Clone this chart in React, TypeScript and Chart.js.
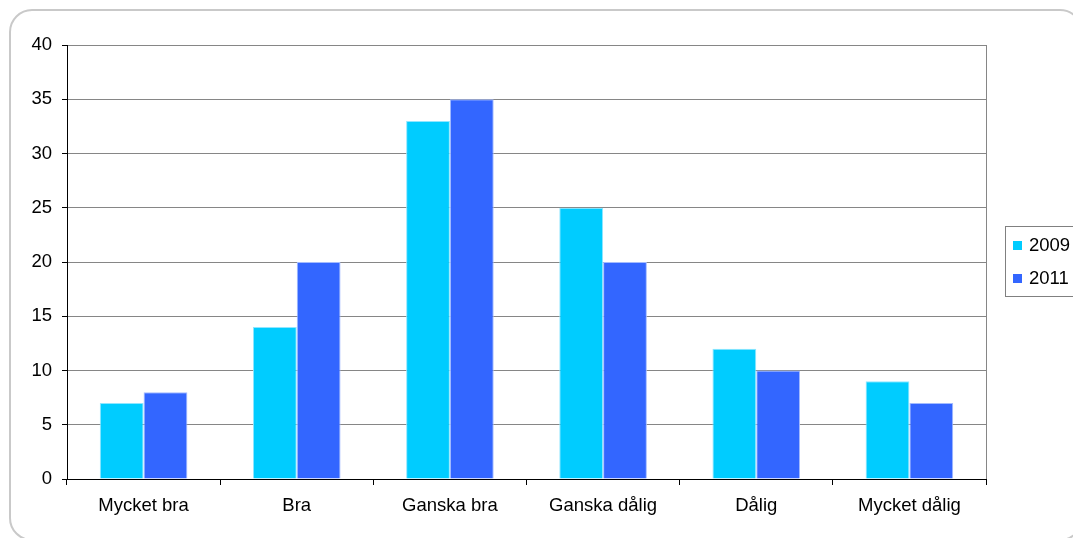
import React, { useEffect, useRef } from "react";
import { Chart, registerables } from "chart.js";

Chart.register(...registerables);

const categories = ["Mycket bra", "Bra", "Ganska bra", "Ganska dålig", "Dålig", "Mycket dålig"];
const seriesLabels = ["2009", "2011"];
const values2009 = [7, 14, 33, 25, 12, 9];
const values2011 = [8, 20, 35, 20, 10, 7];
const seriesColors = ["#00CCFF", "#3366FF"];
const seriesEdges = ["#8fe6ff", "#a3bbff"];
const yTicks = [0, 5, 10, 15, 20, 25, 30, 35, 40];

const FONT = "'Liberation Sans', Arial, sans-serif";
const FONT_SIZE = 18.5;

const framePlugin = {
  id: "frame",
  beforeDraw(chart: any) {
    const ctx = chart.ctx;
    ctx.save();
    ctx.fillStyle = "#ffffff";
    ctx.fillRect(0, 0, chart.width, chart.height);
    ctx.strokeStyle = "#c9c9c9";
    ctx.lineWidth = 2;
    const x = 10, y = 10, w = 1072, h = 530, r = 22;
    ctx.beginPath();
    ctx.moveTo(x + r, y);
    ctx.lineTo(x + w - r, y);
    ctx.arcTo(x + w, y, x + w, y + r, r);
    ctx.lineTo(x + w, y + h - r);
    ctx.arcTo(x + w, y + h, x + w - r, y + h, r);
    ctx.lineTo(x + r, y + h);
    ctx.arcTo(x, y + h, x, y + h - r, r);
    ctx.lineTo(x, y + r);
    ctx.arcTo(x, y, x + r, y, r);
    ctx.closePath();
    ctx.stroke();
    ctx.restore();
  },
  afterDraw(chart: any) {
    const ctx = chart.ctx;
    const a = chart.chartArea;
    ctx.save();
    // right border of plot area
    ctx.strokeStyle = "#868686";
    ctx.lineWidth = 1;
    ctx.beginPath();
    ctx.moveTo(Math.round(a.right) + 0.5, a.top);
    ctx.lineTo(Math.round(a.right) + 0.5, a.bottom);
    ctx.stroke();
    // legend box
    const lx = 1005.5, ly = 226.5, lw = 90, lh = 70;
    ctx.strokeStyle = "#808080";
    ctx.strokeRect(lx, ly, lw, lh);
    ctx.font = `${FONT_SIZE}px ${FONT}`;
    ctx.textBaseline = "middle";
    ctx.textAlign = "left";
    chart.data.datasets.forEach((ds: any, i: number) => {
      const cy = 246 + i * 33;
      ctx.fillStyle = ds.backgroundColor;
      ctx.fillRect(1013, cy - 5, 9, 9);
      ctx.fillStyle = "#000000";
      ctx.fillText(ds.label, 1029, cy);
    });
    ctx.restore();
  },
};

export default function App() {
  const ref = useRef<HTMLCanvasElement>(null);
  useEffect(() => {
    if (!ref.current) return;
    const chart = new Chart(ref.current, {
      type: "bar",
      data: {
        labels: categories,
        datasets: [
          {
            label: seriesLabels[0],
            data: values2009,
            backgroundColor: seriesColors[0],
            borderColor: seriesEdges[0],
            borderWidth: 1,
            borderSkipped: "bottom",
          },
          {
            label: seriesLabels[1],
            data: values2011,
            backgroundColor: seriesColors[1],
            borderColor: seriesEdges[1],
            borderWidth: 1,
            borderSkipped: "bottom",
          },
        ],
      },
      options: {
        responsive: false,
        animation: false,
        devicePixelRatio: 1,
        layout: { padding: { top: 45, right: 87, bottom: 0, left: 0 } },
        plugins: {
          legend: { display: false },
          tooltip: { enabled: false },
        },
        datasets: {
          bar: { categoryPercentage: 0.572, barPercentage: 1 },
        },
        scales: {
          x: {
            offset: true,
            grid: {
              offset: true,
              drawOnChartArea: false,
              drawTicks: true,
              tickLength: 6,
              tickColor: "#000000",
            },
            border: { color: "#000000", width: 1 },
            ticks: {
              color: "#000000",
              font: { family: FONT, size: FONT_SIZE },
              padding: 10,
              maxRotation: 0,
              autoSkip: false,
            },
            afterFit(scale: any) {
              scale.height = 538 - 479;
            },
          },
          y: {
            min: 0,
            max: 40,
            afterBuildTicks(scale: any) {
              scale.ticks = yTicks.map((v) => ({ value: v }));
            },
            grid: {
              color: "#868686",
              tickColor: "#000000",
              tickLength: 5,
              drawTicks: true,
            },
            border: { color: "#000000", width: 1 },
            ticks: {
              color: "#000000",
              font: { family: FONT, size: FONT_SIZE },
              padding: 10,
            },
            afterFit(scale: any) {
              scale.width = 67;
            },
          },
        },
      },
      plugins: [framePlugin],
    });
    return () => chart.destroy();
  }, []);
  return (
    <div style={{ position: "fixed", left: 0, top: 0, width: 1073, height: 538, background: "#fff" }}>
      <canvas ref={ref} width={1073} height={538} style={{ display: "block" }} />
    </div>
  );
}
